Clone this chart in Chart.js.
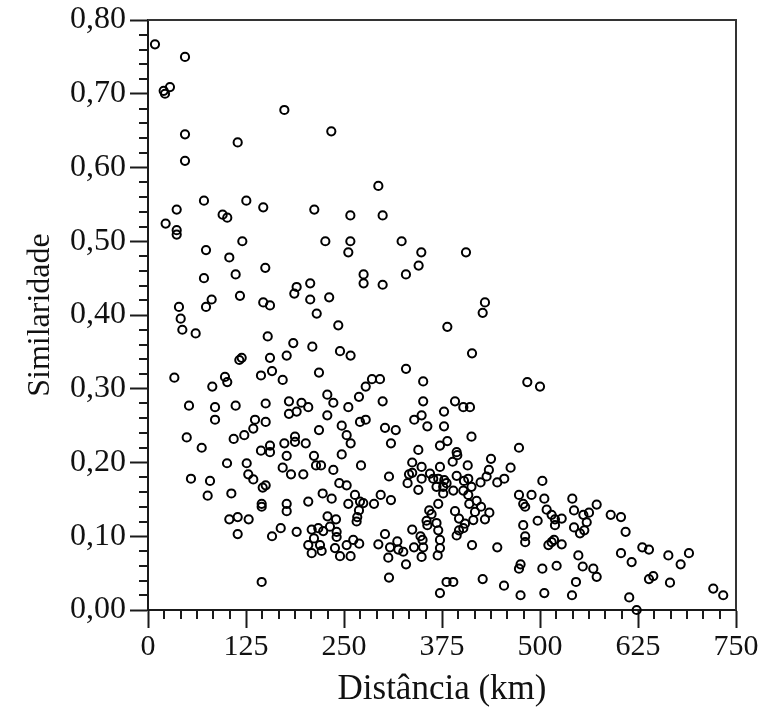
<!DOCTYPE html>
<html>
<head>
<meta charset="utf-8">
<script src="https://cdn.jsdelivr.net/npm/chart.js@4"></script>
<style>
html,body{margin:0;padding:0;background:#fff;}
#wrap{width:765px;height:711px;position:relative;}
</style>
</head>
<body>
<div id="wrap"><canvas id="c" width="765" height="711"></canvas></div>
<script>
const xTickLabels = ['0','125','250','375','500','625','750'];
const yTickLabels = ['0,00','0,10','0,20','0,30','0,40','0,50','0,60','0,70','0,80'];
const xTitle = 'Distância (km)';
const yTitle = 'Similaridade';

const distance = [
8.9,47.2,28,21.7,20,173.9,47.2,114.4,47.2,71.4,125.4,147,36.6,95.2,101.1,22.5,36.6,36.6,120.3,74,103.7,111.8,149.6,71.4,189.6,186.6,117.3,81.2,74,147,155.6,39.5,
233.8,293.8,212.1,258.1,299.3,226.2,258.1,255.5,323.5,348.6,345.2,275,275,329,299.3,206.9,206.9,231.1,215.2,
405.6,429.8,426.9,
41.7,43.8,60.8,152.7,185.3,119.5,116.5,155.6,176.9,33.6,144.1,158.2,171.8,98.2,101.1,82,52.3,85.5,85.5,111.8,150.1,150.1,136.5,134.3,122.8,109.3,49.4,68.5,179.8,179.8,189.6,144.1,155.6,155.6,173.9,187.5,187.5,176.9,171.8,182.4,100.8,125.9,127.9,134.3,54.8,79.1,76.1,106.3,150.1,146.3,145,145,176.9,176.9,103.7,114.4,128.4,114.4,158.2,169.3,189.6,145,
242.7,381.8,209.6,244.9,258.4,218.1,329.1,285.7,295.9,277.7,351,228.7,236.4,269.1,299.3,351,195.8,204.4,255.5,228.7,339.6,349,377.6,270.4,277.7,247.1,253.4,258.5,302.3,316,356.3,377.6,218.1,309.9,201.2,372.4,381.8,344.8,247.1,211.7,214.3,220.7,236.4,271.7,337,349,372.4,337,332.9,331.1,349,344.8,359.7,363.8,368,370.2,377.9,376.5,380.8,376.5,198.1,307.4,244,253.4,264,270.4,274.6,269.1,222.8,234.3,255.5,204.4,288.3,296.8,309.9,370.2,358.7,361.7,355.3,356.3,368,370.2,372.4,372.4,369.5,337,347.6,350.2,351,349,339.3,302.3,293.8,308.7,318,319.3,325.6,306.5,329.1,307.4,380.8,372.4,229,239.8,232.1,240.6,240.6,223.5,217.2,208.8,211.7,204.4,208.8,219.4,221.5,238.5,244.9,253.4,261.8,258.4,269.4,266.1,266.9,
413.3,483.8,500,391.6,402.2,410.7,412.6,473.2,393.7,394.5,388.6,407.8,437.5,434.8,431.9,462.5,393.7,403,408.5,412.6,402.2,389.4,424.2,445.5,454.4,408.5,419.2,409.8,417.1,424.8,435.4,429.8,414.9,391.6,396.7,402.2,396.7,393.7,404.3,413.3,445.5,389.4,426.9,454.1,473.2,478.6,481.1,489.2,503,505.5,508.5,514.8,519.1,519.1,527.7,497,478.6,481.1,481.1,510.7,514.8,517.9,527.7,475.2,473.2,503,521.2,475.2,505.5,540.8,545.9,548.9,554.5,568,572.3,541.2,543.4,555.3,562.5,559.6,556.5,551,543.4,572.3,
590.2,603.3,609.2,603.3,616.9,630.5,639,644.5,639,663.7,679.4,690,665.8,613.8,623.3,721,733.7
];
const similarity = [
0.767,0.750,0.709,0.700,0.704,0.678,0.645,0.634,0.609,0.555,0.555,0.546,0.543,0.536,0.532,0.524,0.515,0.509,0.500,0.488,0.478,0.455,0.464,0.450,0.438,0.429,0.426,0.421,0.411,0.417,0.413,0.411,
0.649,0.575,0.543,0.535,0.535,0.500,0.500,0.485,0.500,0.485,0.467,0.455,0.443,0.455,0.441,0.443,0.421,0.424,0.402,
0.485,0.417,0.403,
0.395,0.380,0.375,0.371,0.362,0.342,0.339,0.342,0.345,0.315,0.318,0.324,0.312,0.316,0.309,0.303,0.277,0.275,0.258,0.277,0.280,0.255,0.258,0.246,0.237,0.232,0.234,0.220,0.283,0.266,0.269,0.216,0.214,0.223,0.226,0.235,0.228,0.209,0.193,0.184,0.199,0.199,0.184,0.177,0.178,0.175,0.155,0.158,0.169,0.166,0.144,0.140,0.144,0.134,0.123,0.126,0.123,0.103,0.100,0.111,0.106,0.038,
0.386,0.384,0.357,0.351,0.345,0.322,0.327,0.313,0.313,0.303,0.310,0.292,0.281,0.289,0.283,0.283,0.281,0.275,0.275,0.264,0.258,0.264,0.269,0.255,0.258,0.250,0.237,0.226,0.247,0.244,0.249,0.249,0.244,0.226,0.226,0.223,0.229,0.217,0.211,0.209,0.196,0.196,0.190,0.196,0.200,0.194,0.194,0.186,0.184,0.172,0.178,0.163,0.185,0.178,0.167,0.178,0.176,0.167,0.172,0.158,0.184,0.181,0.172,0.169,0.156,0.147,0.145,0.135,0.158,0.151,0.144,0.147,0.144,0.156,0.149,0.144,0.135,0.130,0.121,0.115,0.118,0.108,0.095,0.084,0.074,0.109,0.100,0.095,0.085,0.072,0.085,0.103,0.089,0.085,0.093,0.082,0.079,0.071,0.062,0.044,0.038,0.023,0.127,0.123,0.113,0.106,0.099,0.107,0.111,0.109,0.097,0.088,0.077,0.088,0.080,0.084,0.073,0.088,0.095,0.073,0.090,0.120,0.126,
0.348,0.309,0.303,0.283,0.275,0.275,0.235,0.220,0.214,0.210,0.201,0.196,0.205,0.190,0.181,0.193,0.182,0.175,0.178,0.167,0.162,0.162,0.173,0.173,0.178,0.156,0.148,0.144,0.133,0.140,0.132,0.123,0.122,0.134,0.124,0.111,0.108,0.101,0.117,0.088,0.085,0.038,0.042,0.033,0.156,0.144,0.140,0.156,0.175,0.151,0.136,0.129,0.123,0.115,0.124,0.121,0.115,0.100,0.092,0.088,0.092,0.095,0.089,0.062,0.056,0.056,0.060,0.020,0.023,0.020,0.038,0.074,0.059,0.056,0.045,0.151,0.135,0.129,0.132,0.119,0.108,0.104,0.112,0.143,
0.129,0.126,0.106,0.077,0.065,0.085,0.082,0.046,0.042,0.074,0.062,0.077,0.037,0.017,0.000,0.029,0.020
];

const points = distance.map((d, i) => ({x: d, y: similarity[i]}));

const X_MAJOR = 125, X_SUB = 6, Y_MAJOR = 0.1, Y_SUB = 5;
function isMajor(v, step) { const r = v / step; return Math.abs(r - Math.round(r)) < 1e-6; }

const AXIS_COLOR = '#1a1a1a';
const minorTicks = {
  id: 'minorTicks',
  afterDraw(chart) {
    const ctx = chart.ctx;
    const {left, right, top, bottom} = chart.chartArea;
    const xs = chart.scales.x, ys = chart.scales.y;
    ctx.save();
    ctx.strokeStyle = AXIS_COLOR;
    ctx.lineWidth = 2;
    ctx.beginPath();
    xs.ticks.forEach(t => {
      if (!isMajor(t.value, X_MAJOR)) {
        const p = Math.round(xs.getPixelForValue(t.value));
        ctx.moveTo(p, bottom); ctx.lineTo(p, bottom + 9);
      }
    });
    ys.ticks.forEach(t => {
      if (!isMajor(t.value, Y_MAJOR)) {
        const p = Math.round(ys.getPixelForValue(t.value));
        ctx.moveTo(left - 9, p); ctx.lineTo(left, p);
      }
    });
    ctx.stroke();
    ctx.strokeStyle = '#333';
    ctx.beginPath();
    ctx.moveTo(left, top); ctx.lineTo(right, top); ctx.lineTo(right, bottom);
    ctx.stroke();
    ctx.restore();
  }
};

new Chart(document.getElementById('c'), {
  type: 'scatter',
  data: {
    datasets: [{
      data: points,
      pointStyle: 'circle',
      pointRadius: 4.1,
      pointHoverRadius: 4.1,
      pointBorderWidth: 2,
      borderColor: '#000',
      backgroundColor: 'rgba(255,255,255,0)',
      clip: false
    }]
  },
  options: {
    responsive: false,
    animation: false,
    events: [],
    layout: { padding: { top: 0, right: 29, left: 0, bottom: 0 } },
    plugins: { legend: { display: false }, tooltip: { enabled: false } },
    scales: {
      x: {
        type: 'linear',
        min: 0, max: 750,
        afterBuildTicks(scale) {
          const t = [];
          for (let i = 0; i <= 6 * X_SUB; i++) t.push({ value: i * X_MAJOR / X_SUB });
          scale.ticks = t;
        },
        afterFit(scale) { scale.height = 101; },
        ticks: {
          autoSkip: false,
          maxRotation: 0,
          padding: 1,
          color: '#111',
          font: { family: 'Liberation Serif', size: 30 },
          callback(v) {
            if (!isMajor(v, X_MAJOR)) return '';
            return xTickLabels[Math.round(v / X_MAJOR)];
          }
        },
        grid: {
          display: true,
          drawOnChartArea: false,
          drawTicks: true,
          tickLength: 18,
          tickWidth: 2,
          tickColor: (c) => (c.tick && isMajor(c.tick.value, X_MAJOR)) ? AXIS_COLOR : 'rgba(0,0,0,0)'
        },
        border: { display: true, color: AXIS_COLOR, width: 2 },
        title: {
          display: true,
          text: xTitle,
          color: '#111',
          font: { family: 'Liberation Serif', size: 35 },
          padding: { top: 3, bottom: 0 }
        }
      },
      y: {
        type: 'linear',
        min: 0, max: 0.8,
        afterBuildTicks(scale) {
          const t = [];
          for (let i = 0; i <= 8 * Y_SUB; i++) t.push({ value: Math.round(i * 2) / 100 });
          scale.ticks = t;
        },
        afterFit(scale) { scale.width = 148; },
        ticks: {
          autoSkip: false,
          padding: 4,
          color: '#111',
          font: { family: 'Liberation Serif', size: 32, lineHeight: 1.0 },
          callback(v) {
            if (!isMajor(v, Y_MAJOR)) return '';
            return yTickLabels[Math.round(v / Y_MAJOR)];
          }
        },
        grid: {
          display: true,
          drawOnChartArea: false,
          drawTicks: true,
          tickLength: 18,
          tickWidth: 2,
          tickColor: (c) => (c.tick && isMajor(c.tick.value, Y_MAJOR)) ? AXIS_COLOR : 'rgba(0,0,0,0)'
        },
        border: { display: true, color: AXIS_COLOR, width: 2 },
        title: {
          display: true,
          text: yTitle,
          color: '#111',
          font: { family: 'Liberation Serif', size: 32 },
          padding: { top: 21, bottom: 0 }
        }
      }
    }
  },
  plugins: [minorTicks]
});
</script>
</body>
</html>
